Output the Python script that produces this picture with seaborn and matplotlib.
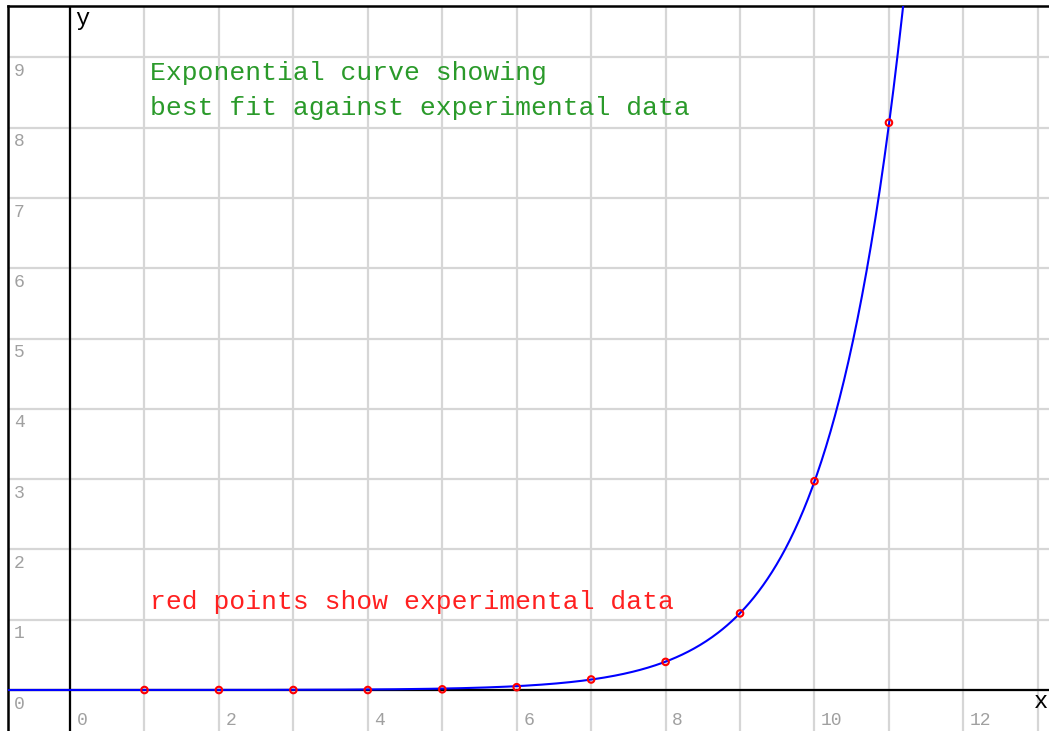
import numpy as np
import pandas as pd
import seaborn as sns
import matplotlib.pyplot as plt

# experimental points
x_points = [1, 2, 3, 4, 5, 6, 7, 8, 9, 10, 11]
y_points = [0.0, 0.0, 0.0, 0.0, 0.01, 0.04, 0.15, 0.40, 1.09, 2.97, 8.07]

x_tick_labels = [0, 2, 4, 6, 8, 10, 12]
y_tick_labels = [0, 1, 2, 3, 4, 5, 6, 7, 8, 9]

title_lines = ["Exponential curve showing", "best fit against experimental data"]
note_text = "red points show experimental data"

sns.set_theme(style="white")
plt.rcParams['font.family'] = ['Liberation Mono', 'DejaVu Sans Mono']

fig = plt.figure(figsize=(10.49, 7.31), dpi=100)
ax = fig.add_axes([8 / 1049, 0, 1 - 8 / 1049, 725 / 731])

xmin, xmax = -0.833, 13.15
ymin, ymax = -0.583, 9.73

# best fit of log(y) against x for the clearly non-zero points
pts = pd.DataFrame({"x": x_points, "y": y_points})
fit_pts = pts[pts["y"] > 0.1]
b, a = np.polyfit(fit_pts["x"], np.log(fit_pts["y"]), 1)
x_top = (np.log(ymax + 0.3) - a) / b
curve = pd.DataFrame({"x": np.linspace(xmin, x_top, 600)})
curve["y"] = np.exp(a + b * curve["x"])

# grid
ax.set_xticks(np.arange(-1, 14))
ax.set_yticks(np.arange(-1, 11))
ax.grid(True, color="#d6d6d6", linewidth=1.6)
ax.tick_params(length=0, labelbottom=False, labelleft=False)

ax.axhline(0, color="black", linewidth=1.6, zorder=2)
ax.axvline(0, color="black", linewidth=1.6, zorder=2)

sns.lineplot(data=curve, x="x", y="y", color="#0000ff", linewidth=1.5,
             ax=ax, zorder=3, sort=False)
ax.scatter(pts["x"], pts["y"], s=22, facecolors="none", edgecolors="#ff0000",
           linewidths=1.5, zorder=4)

ax.set_xlim(xmin, xmax)
ax.set_ylim(ymin, ymax)
ax.set_xlabel("")
ax.set_ylabel("")

for side in ["right", "bottom"]:
    ax.spines[side].set_visible(False)
for side in ["top", "left"]:
    ax.spines[side].set_color("black")
    ax.spines[side].set_linewidth(1.8)

# tick labels placed just right of / below their grid lines
for v in x_tick_labels:
    ax.text(v + 0.09, ymin + 0.08, str(v), color="#a0a0a0", fontsize=13,
            ha="left", va="baseline")
for v in y_tick_labels:
    ax.text(xmin + 0.08, v - 0.08, str(v), color="#a0a0a0", fontsize=13,
            ha="left", va="top")

ax.text(12.95, -0.16, "x", color="black", fontsize=17, ha="left", va="center")
ax.text(0.07, 9.55, "y", color="black", fontsize=17, ha="left", va="center")

ax.text(1.07, 8.68, title_lines[0], color="#2a9a2a", fontsize=19, va="baseline")
ax.text(1.07, 8.18, title_lines[1], color="#2a9a2a", fontsize=19, va="baseline")
ax.text(1.07, 1.15, note_text, color="#ff2020", fontsize=19, va="baseline")

fig.savefig("out.png", dpi=100)
